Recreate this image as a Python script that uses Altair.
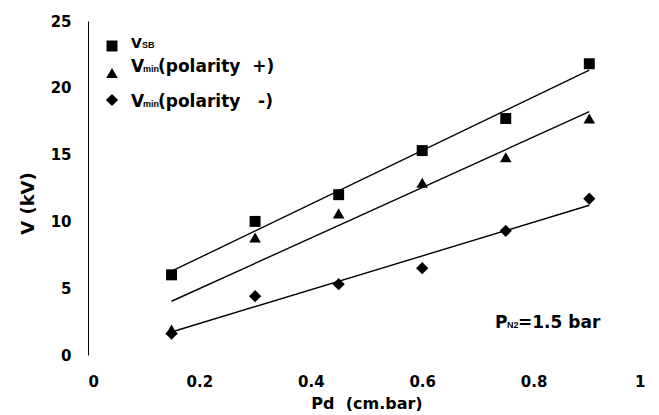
import altair as alt
import pandas as pd

# ---- data ----
pd_x = [0.15, 0.30, 0.45, 0.60, 0.75, 0.90]
v_sb = [6.0, 10.0, 12.0, 15.3, 17.7, 21.8]
v_min_pos = [1.9, 8.8, 10.6, 12.9, 14.8, 17.7]
v_min_neg = [1.6, 4.4, 5.3, 6.5, 9.3, 11.7]
series = ["V_SB", "Vmin(polarity +)", "Vmin(polarity -)"]
shapes = ["square", "triangle-up", "diamond"]
x_ticks = [0, 0.2, 0.4, 0.6, 0.8, 1]
y_ticks = [0, 5, 10, 15, 20, 25]
legend_main = ["V", "V", "V"]
legend_sub = ["SB", "min", "min"]
legend_rest = ["", "(polarity\u00a0\u00a0+)", "(polarity\u00a0\u00a0\u00a0-)"]
note_main = ["P", "N2", "=1.5 bar"]

rows = []
for s, ys in zip(series, [v_sb, v_min_pos, v_min_neg]):
    for xv, yv in zip(pd_x, ys):
        rows.append({"series": s, "x": xv, "y": yv})
df = pd.DataFrame(rows)

FONT = "DejaVu Sans"
SUBFONT = "Liberation Sans"

xenc = alt.X("x:Q", scale=alt.Scale(domain=[0, 1], nice=False),
             axis=alt.Axis(values=x_ticks, format="~g", title="Pd\u00a0\u00a0(cm.bar)",
                           grid=False, ticks=False, domain=False,
                           labelFont=FONT, labelFontWeight="bold", labelFontSize=15,
                           labelPadding=19, labelColor="black",
                           titleFont=FONT, titleFontWeight="bold", titleFontSize=16,
                           titlePadding=6, titleColor="black"))
yenc = alt.Y("y:Q", scale=alt.Scale(domain=[0, 25], nice=False),
             axis=alt.Axis(values=y_ticks, title="V (kV)", grid=False, ticks=False,
                           domain=True, domainColor="black", domainWidth=1,
                           labelFont=FONT, labelFontWeight="bold", labelFontSize=15,
                           labelPadding=17, labelColor="black",
                           titleFont=FONT, titleFontWeight="bold", titleFontSize=18,
                           titleColor="black", titleX=-60, titleY=182,
                           titleAngle=270, titleAlign="center", titleBaseline="middle"))

shape_scale = alt.Scale(domain=series, range=shapes)
size_scale = alt.Scale(domain=series, range=[120, 150, 100])

base = alt.Chart(df)
points = base.mark_point(filled=True, color="black", opacity=1).encode(
    x=xenc, y=yenc,
    shape=alt.Shape("series:N", scale=shape_scale, legend=None),
    size=alt.Size("series:N", scale=size_scale, legend=None),
)
lines = base.transform_regression("x", "y", groupby=["series"]).mark_line(
    color="black", strokeWidth=1.4
).encode(x="x:Q", y="y:Q", detail="series:N")

layers = [lines, points]

# manual legend
sym_y = [25, 52, 79]
txt_y = [27, 51, 86]
main_size = [14, 17, 17]
for i in range(3):
    sdf = pd.DataFrame({"series": [series[i]]})
    layers.append(alt.Chart(sdf).mark_point(filled=True, color="black", opacity=1).encode(
        x=alt.value(24), y=alt.value(sym_y[i]),
        shape=alt.Shape("series:N", scale=shape_scale, legend=None),
        size=alt.Size("series:N", scale=size_scale, legend=None)))
    layers.append(alt.Chart(pd.DataFrame({"t": [legend_main[i]]})).mark_text(
        font=FONT, fontWeight="bold", fontSize=main_size[i], align="left",
        baseline="alphabetic", color="black").encode(
        x=alt.value(43), y=alt.value(txt_y[i]), text="t:N"))
    layers.append(alt.Chart(pd.DataFrame({"t": [legend_sub[i]]})).mark_text(
        font=SUBFONT, fontWeight="bold", fontSize=9, align="left",
        baseline="alphabetic", color="black").encode(
        x=alt.value(54 if i == 0 else 55), y=alt.value(txt_y[i]), text="t:N"))
    if legend_rest[i]:
        layers.append(alt.Chart(pd.DataFrame({"t": [legend_rest[i]]})).mark_text(
            font=FONT, fontWeight="bold", fontSize=17, align="left",
            baseline="alphabetic", color="black").encode(
            x=alt.value(70), y=alt.value(txt_y[i]), text="t:N"))

# pressure note
note_x = [407, 419, 430]
note_fs = [17, 9, 17]
note_font = [FONT, SUBFONT, FONT]
for i in range(3):
    layers.append(alt.Chart(pd.DataFrame({"t": [note_main[i]]})).mark_text(
        font=note_font[i], fontWeight="bold", fontSize=note_fs[i], align="left",
        baseline="alphabetic", color="black").encode(
        x=alt.value(note_x[i]), y=alt.value(307), text="t:N"))

chart = alt.layer(*layers).properties(
    width=557, height=334,
    autosize=alt.AutoSizeParams(type="none"),
    padding={"left": 80, "top": 13, "right": 6, "bottom": 56},
    background="white",
).configure_view(stroke=None)

chart.save("out.html", embed_options={"renderer": "svg", "actions": False})
